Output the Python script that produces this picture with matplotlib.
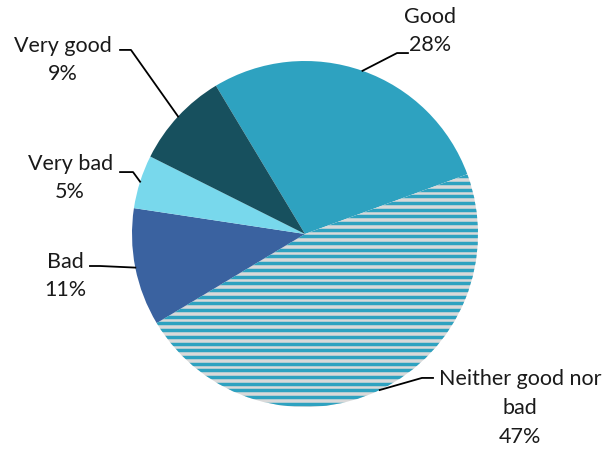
import numpy as np
import matplotlib.pyplot as plt

# survey answers, clockwise from "Good"
labels = ['Good', 'Neither good nor\nbad', 'Bad', 'Very bad', 'Very good']
shares = [28, 47, 11, 5, 9]
colors = ['#2ea2c0', '#d9d9d9', '#3a62a0', '#78d8ec', '#17505e']

# label box centres and leader elbows (axes data units, pie radius = 1)
text_pos = [(0.723, 1.173), (1.243, -1.006), (-1.387, -0.243), (-1.358, 0.324), (-1.399, 1.006)]
elbows = [((0.532, 1.046), (0.595, 1.046)),
          ((0.676, -0.832), (0.740, -0.832)),
          ((-1.185, -0.185), (-1.243, -0.185)),
          ((-0.994, 0.358), (-1.069, 0.358)),
          ((-1.006, 1.064), (-1.069, 1.064))]

plt.rcParams['font.family'] = ['Lato', 'DejaVu Sans']

fig = plt.figure(figsize=(6.13, 4.5), dpi=100)
ax = fig.add_axes([0, 0, 1, 1])

wedges, _ = ax.pie(shares, colors=colors, startangle=121, counterclock=False,
                   radius=1, center=(0, 0), frame=True,
                   wedgeprops=dict(linewidth=0))
ax.set_xlim(-305 / 173, 308 / 173)
ax.set_ylim(-216 / 173, 234 / 173)
ax.set_aspect('auto')
ax.axis('off')

# horizontal stripes on the "Neither" slice
striped = wedges[1]
for y in np.arange(-1.02, 1.02, 0.0387):
    ln = ax.axhline(y, color='#2ea2c0', lw=2.5, zorder=3)
    ln.set_clip_path(striped)

for w, lab, val, tp, (el, end) in zip(wedges, labels, shares, text_pos, elbows):
    mid = np.deg2rad((w.theta1 + w.theta2) / 2)
    edge = (np.cos(mid), np.sin(mid))
    ax.plot([edge[0], el[0], end[0]], [edge[1], el[1], end[1]],
            color='black', lw=1.3, zorder=4)
    ax.text(tp[0], tp[1], f'{lab}\n{val}%', ha='center', va='center',
            fontsize=15.5, linespacing=1.55, color='#1a1a1a')

fig.savefig('out.png', dpi=100)
